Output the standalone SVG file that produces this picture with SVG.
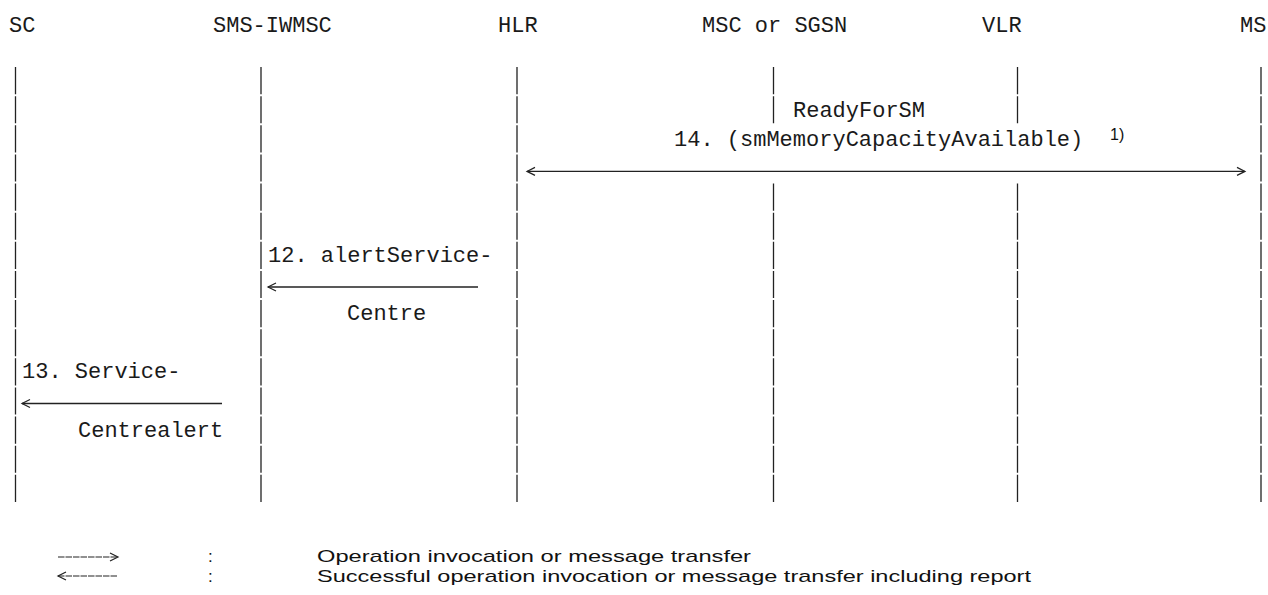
<svg xmlns="http://www.w3.org/2000/svg" width="1268" height="595" viewBox="0 0 1268 595">
<style>
.mono{font-family:"Liberation Mono","DejaVu Sans Mono",monospace;font-size:22px;fill:#1a1a1a}
.sans{font-family:"Liberation Sans",Arial,sans-serif;fill:#111}
.life{stroke:#222;stroke-width:1.3;stroke-dasharray:27.13 2;fill:none}
.msg{stroke:#222;stroke-width:1.3;fill:none}
.leg{stroke:#222;stroke-width:1.2;stroke-dasharray:6.5 1;fill:none}
</style>
<defs>
<marker id="chev" markerUnits="userSpaceOnUse" markerWidth="12" markerHeight="12" viewBox="-1 -1 12 12" refX="9" refY="4.5" orient="auto-start-reverse">
<path d="M1,0.5 L9,4.5 L1,8.5" fill="none" stroke="#222" stroke-width="1.2"/>
</marker>
</defs>
<rect width="1268" height="595" fill="#fff"/>
<g id="node-sc">
<text class="mono" x="9" y="32">SC</text>
<line class="life" x1="15.5" y1="67" x2="15.5" y2="504"/>
</g>
<g id="node-sms-iwmsc">
<text class="mono" x="213" y="32">SMS-IWMSC</text>
<line class="life" x1="261" y1="67" x2="261" y2="504"/>
</g>
<g id="node-hlr">
<text class="mono" x="498" y="32">HLR</text>
<line class="life" x1="517" y1="67" x2="517" y2="504"/>
</g>
<g id="node-msc">
<text class="mono" x="702" y="32">MSC or SGSN</text>
<line class="life" x1="773.5" y1="67" x2="773.5" y2="123.3"/>
<line class="life" x1="773.5" y1="183.5" x2="773.5" y2="504"/>
</g>
<g id="node-vlr">
<text class="mono" x="982" y="32">VLR</text>
<line class="life" x1="1017.5" y1="67" x2="1017.5" y2="123.3"/>
<line class="life" x1="1017.5" y1="183.5" x2="1017.5" y2="504"/>
</g>
<g id="node-ms">
<text class="mono" x="1240" y="32">MS</text>
<line class="life" x1="1261" y1="67" x2="1261" y2="504"/>
</g>
<g id="connectors">
<line class="msg" x1="527" y1="171.4" x2="1245" y2="171.4" marker-start="url(#chev)" marker-end="url(#chev)"/>
<line class="msg" x1="268" y1="287" x2="478" y2="287" marker-start="url(#chev)"/>
<line class="msg" x1="22" y1="403.5" x2="222" y2="403.5" marker-start="url(#chev)"/>
</g>
<g id="labels">
<text class="mono" x="793" y="117">ReadyForSM</text>
<text class="mono" x="674" y="146.3">14. (smMemoryCapacityAvailable)</text>
<text class="sans" x="1110" y="140" font-size="16">1)</text>
<text class="mono" x="268" y="262">12. alertService-</text>
<text class="mono" x="347" y="320">Centre</text>
<text class="mono" x="22" y="378.4">13. Service-</text>
<text class="mono" x="78" y="436.6">Centrealert</text>
</g>
<g id="legend">
<line class="leg" x1="58" y1="557" x2="118" y2="557" marker-end="url(#chev)"/>
<line class="leg" x1="58" y1="576" x2="118" y2="576" marker-start="url(#chev)"/>
<text class="sans" x="208" y="562" font-size="17">:</text>
<text class="sans" x="208" y="582" font-size="17">:</text>
<text class="sans" x="317" y="562" font-size="17" textLength="434" lengthAdjust="spacingAndGlyphs">Operation invocation or message transfer</text>
<text class="sans" x="317" y="582" font-size="17" textLength="714" lengthAdjust="spacingAndGlyphs">Successful operation invocation or message transfer including report</text>
</g>
</svg>
